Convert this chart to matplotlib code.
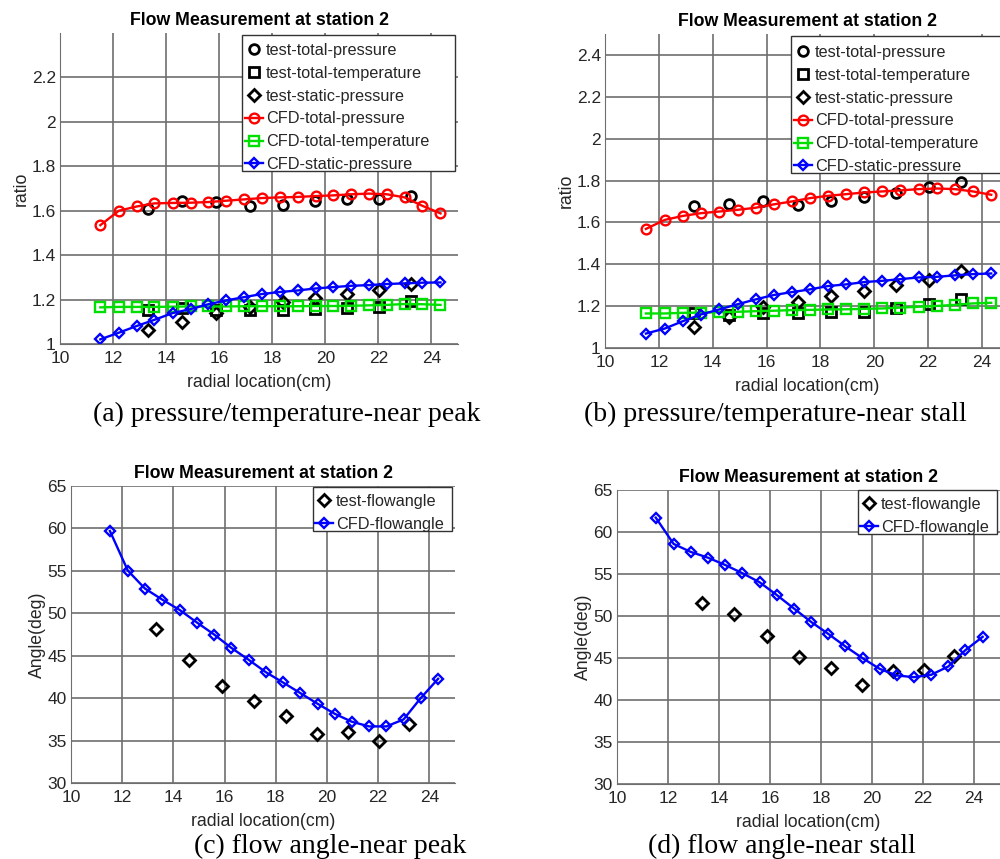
import matplotlib
matplotlib.use("Agg")
import matplotlib.pyplot as plt
from matplotlib.patches import Rectangle

plt.rcParams['font.family'] = ['Liberation Sans', 'DejaVu Sans']

# posicoes radiais (cm)
x_cfd = [11.52, 12.22, 12.89, 13.56, 14.24, 14.92, 15.59, 16.26, 16.94, 17.61,
         18.28, 18.96, 19.63, 20.30, 20.97, 21.64, 22.32, 22.99, 23.66, 24.34]
x_test = [13.32, 14.60, 15.88, 17.15, 18.39, 19.62, 20.82, 22.02, 23.22]

# (a) near peak
a_test_pt = [1.609, 1.642, 1.638, 1.621, 1.627, 1.644, 1.651, 1.654, 1.666]
a_test_tt = [1.154, 1.161, 1.154, 1.151, 1.151, 1.157, 1.161, 1.166, 1.194]
a_test_sp = [1.063, 1.099, 1.139, 1.165, 1.187, 1.205, 1.223, 1.241, 1.271]
a_cfd_pt = [1.535, 1.600, 1.619, 1.633, 1.635, 1.636, 1.639, 1.645, 1.651, 1.657,
            1.660, 1.662, 1.666, 1.669, 1.674, 1.677, 1.674, 1.660, 1.622, 1.588]
a_cfd_tt = [1.165, 1.167, 1.167, 1.167, 1.168, 1.169, 1.169, 1.169, 1.170, 1.170,
            1.170, 1.170, 1.171, 1.171, 1.172, 1.174, 1.176, 1.180, 1.179, 1.176]
a_cfd_sp = [1.021, 1.051, 1.081, 1.109, 1.139, 1.157, 1.179, 1.196, 1.211, 1.225,
            1.234, 1.241, 1.250, 1.256, 1.262, 1.265, 1.270, 1.273, 1.276, 1.277]

# (b) near stall
b_test_pt = [1.676, 1.689, 1.700, 1.681, 1.700, 1.721, 1.740, 1.769, 1.793]
b_test_tt = [1.165, 1.157, 1.168, 1.165, 1.173, 1.173, 1.193, 1.209, 1.232]
b_test_sp = [1.101, 1.149, 1.197, 1.221, 1.249, 1.273, 1.300, 1.324, 1.369]
b_cfd_pt = [1.569, 1.612, 1.631, 1.644, 1.652, 1.660, 1.670, 1.686, 1.700, 1.716,
            1.727, 1.735, 1.743, 1.748, 1.753, 1.759, 1.762, 1.759, 1.748, 1.732]
b_cfd_tt = [1.165, 1.165, 1.168, 1.169, 1.171, 1.173, 1.176, 1.178, 1.181, 1.182,
            1.184, 1.185, 1.187, 1.189, 1.193, 1.197, 1.201, 1.206, 1.213, 1.216]
b_cfd_sp = [1.069, 1.093, 1.128, 1.160, 1.184, 1.209, 1.232, 1.253, 1.267, 1.280,
            1.296, 1.304, 1.315, 1.321, 1.329, 1.337, 1.340, 1.347, 1.353, 1.356]

# (c) e (d) angulo do escoamento
c_test = [48.09, 44.52, 41.38, 39.61, 37.85, 35.73, 36.00, 34.90, 36.98]
c_cfd = [59.70, 55.03, 52.91, 51.62, 50.40, 48.91, 47.50, 45.93, 44.52, 43.06,
         41.85, 40.59, 39.34, 38.16, 37.22, 36.67, 36.67, 37.49, 40.00, 42.28]
d_test = [51.52, 50.21, 47.64, 45.10, 43.79, 41.81, 43.44, 43.63, 45.26]
d_cfd = [61.71, 58.58, 57.63, 56.95, 56.08, 55.09, 54.02, 52.51, 50.89, 49.30,
         47.88, 46.37, 44.98, 43.71, 42.92, 42.72, 43.00, 43.99, 45.93, 47.52]

W, H = 1000, 859
fig = plt.figure(figsize=(W / 100, H / 100), dpi=100)


def caixa(l, t, r, b):
    return [l / W, 1 - b / H, (r - l) / W, (b - t) / H]


def estilo(ax, ylim, yticks, ylabel):
    ax.set_xlim(10, 25)
    ax.set_ylim(*ylim)
    ax.set_xticks(range(10, 26, 2))
    ax.set_yticks(yticks)
    ax.set_yticklabels([f"{v:g}" for v in yticks])
    ax.grid(True, color='#6e6e6e', lw=1.2)
    ax.set_axisbelow(True)
    for s in ['top', 'right']:
        ax.spines[s].set_visible(False)
    for s in ['left', 'bottom']:
        ax.spines[s].set_color('#6e6e6e')
    ax.tick_params(direction='in', length=0, labelsize=12.5, colors='#262626')
    ax.tick_params(axis='x', pad=5)
    ax.tick_params(axis='y', pad=3)
    ax.set_title("Flow Measurement at station 2", fontsize=12.8, fontweight='bold', pad=6)
    ax.set_xlabel("radial location(cm)", fontsize=12.7, color='#262626', labelpad=6)
    ax.set_ylabel(ylabel, fontsize=12.7, color='#262626', labelpad=1)


def legenda(ax, quadro, ancora):
    # quadro branco da legenda em pixels (esq, topo, dir, base)
    l, t, r, b = quadro
    ax.add_patch(Rectangle((l / W, 1 - b / H), (r - l) / W, (b - t) / H,
                           transform=fig.transFigure, facecolor='white',
                           edgecolor='#333333', lw=1.0, zorder=4, clip_on=False))
    leg = ax.legend(loc='upper left', bbox_to_anchor=(ancora[0] / W, 1 - ancora[1] / H),
                    bbox_transform=fig.transFigure, fontsize=11.7, frameon=False,
                    borderaxespad=0, borderpad=0, handlelength=1.1,
                    handletextpad=0.2, labelspacing=0.48)
    leg.set_zorder(5)
    for txt in leg.get_texts():
        txt.set_color('#262626')


def pressao(ax, tp, tt, sp, cp, ct, cs, quadro, ancora):
    ax.plot(x_test, tp, 'o', color='k', mfc='none', ms=7, mew=2, label='test-total-pressure')
    ax.plot(x_test, tt, 's', color='k', mfc='none', ms=6.5, mew=2, label='test-total-temperature')
    ax.plot(x_test, sp, 'D', color='k', mfc='none', ms=6, mew=2, label='test-static-pressure')
    ax.plot(x_cfd, cp, '-o', color='#ff0000', mfc='none', ms=7, mew=1.7, lw=1.7, label='CFD-total-pressure')
    ax.plot(x_cfd, ct, '-s', color='#00e000', mfc='none', ms=7, mew=1.7, lw=1.7, label='CFD-total-temperature')
    ax.plot(x_cfd, cs, '-D', color='#0000ff', mfc='none', ms=5, mew=1.7, lw=1.7, label='CFD-static-pressure')
    legenda(ax, quadro, ancora)


def angulo(ax, teste, cfd, quadro, ancora):
    ax.plot(x_test, teste, 'D', color='k', mfc='none', ms=6, mew=2, label='test-flowangle')
    ax.plot(x_cfd, cfd, '-D', color='#0000ff', mfc='none', ms=5, mew=1.7, lw=1.7, label='CFD-flowangle')
    legenda(ax, quadro, ancora)


ax_a = fig.add_axes(caixa(60, 33, 458, 344))
estilo(ax_a, (1, 2.4), [1, 1.2, 1.4, 1.6, 1.8, 2, 2.2], "ratio")
pressao(ax_a, a_test_pt, a_test_tt, a_test_sp, a_cfd_pt, a_cfd_tt, a_cfd_sp,
        (242, 35, 455, 171), (245, 43))

ax_b = fig.add_axes(caixa(605, 34, 1009, 348))
estilo(ax_b, (1, 2.5), [1, 1.2, 1.4, 1.6, 1.8, 2, 2.2, 2.4], "ratio")
pressao(ax_b, b_test_pt, b_test_tt, b_test_sp, b_cfd_pt, b_cfd_tt, b_cfd_sp,
        (791, 36, 1012, 173), (794, 45))

ax_c = fig.add_axes(caixa(71, 486, 455, 783))
estilo(ax_c, (30, 65), list(range(30, 66, 5)), "Angle(deg)")
angulo(ax_c, c_test, c_cfd, (313, 487, 452, 531), (315, 494))

ax_d = fig.add_axes(caixa(617, 490, 999.5, 784))
estilo(ax_d, (30, 65), list(range(30, 66, 5)), "Angle(deg)")
angulo(ax_d, d_test, d_cfd, (858, 490, 997, 534), (860, 497))

# legendas das figuras
serif = ['Liberation Serif', 'DejaVu Serif']
fig.text(286.5 / W, 1 - 421 / H, "(a) pressure/temperature-near peak", family=serif,
         fontsize=20, ha='center', va='baseline')
fig.text(775.5 / W, 1 - 421 / H, "(b) pressure/temperature-near stall", family=serif,
         fontsize=20, ha='center', va='baseline')
fig.text(330 / W, 1 - 853 / H, "(c) flow angle-near peak", family=serif,
         fontsize=20, ha='center', va='baseline')
fig.text(782 / W, 1 - 853 / H, "(d) flow angle-near stall", family=serif,
         fontsize=20, ha='center', va='baseline')

fig.savefig("out.png", dpi=100)
